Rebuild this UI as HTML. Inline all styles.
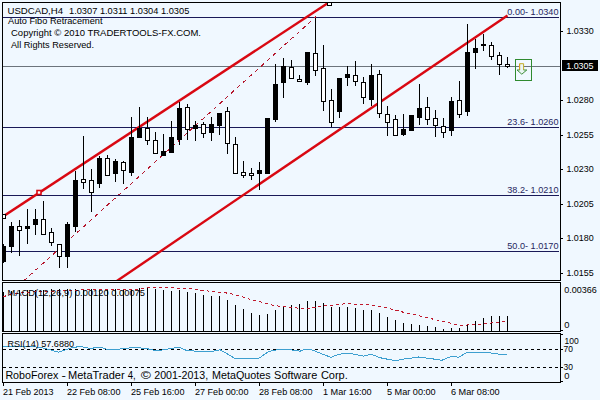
<!DOCTYPE html>
<html><head><meta charset="utf-8"><title>USDCAD H4</title>
<style>
html,body{margin:0;padding:0;background:#f0f8ff;}
body{width:600px;height:400px;overflow:hidden;position:relative;font-family:"Liberation Sans",sans-serif;}
</style></head><body>
<svg width="600" height="400" viewBox="0 0 600 400" style="position:absolute;left:0;top:0">
<rect width="600" height="400" fill="#f0f8ff"/>
<defs><clipPath id="cm"><rect x="3" y="3" width="557" height="277"/></clipPath><clipPath id="cd"><rect x="3" y="283" width="557" height="48"/></clipPath></defs>
<g shape-rendering="crispEdges">
<rect x="3" y="66" width="557" height="1" fill="#6c747c"/>
<rect x="3" y="17" width="556" height="1" fill="#1a1a58"/>
<rect x="3" y="127" width="556" height="1" fill="#1a1a58"/>
<rect x="3" y="195" width="556" height="1" fill="#1a1a58"/>
<rect x="3" y="251" width="556" height="1" fill="#1a1a58"/>
</g>
<g clip-path="url(#cm)" fill="none">
<line x1="23.5" y1="281" x2="316" y2="16.6" stroke="#b4162c" stroke-width="1" stroke-dasharray="4 4" shape-rendering="crispEdges"/>
<line x1="2" y1="217.1" x2="328" y2="3.0" stroke="#d90812" stroke-width="2.4"/>
<line x1="116.8" y1="281" x2="507.5" y2="15.5" stroke="#d90812" stroke-width="2.4"/>
</g>
<g shape-rendering="crispEdges" clip-path="url(#cm)">
<rect x="3" y="244" width="1" height="19" fill="#000"/>
<rect x="1" y="246" width="5" height="16" fill="#000"/>
<rect x="11" y="222" width="1" height="31" fill="#000"/>
<rect x="9" y="226" width="5" height="21" fill="#000"/>
<rect x="19" y="220" width="1" height="36" fill="#000"/>
<rect x="17" y="226" width="5" height="5" fill="#000"/>
<rect x="18" y="227" width="3" height="3" fill="#fff"/>
<rect x="27" y="209" width="1" height="35" fill="#000"/>
<rect x="25" y="226" width="5" height="3" fill="#000"/>
<rect x="35" y="209" width="1" height="26" fill="#000"/>
<rect x="33" y="219" width="5" height="6" fill="#000"/>
<rect x="43" y="201" width="1" height="34" fill="#000"/>
<rect x="41" y="219" width="5" height="16" fill="#000"/>
<rect x="42" y="220" width="3" height="14" fill="#fff"/>
<rect x="51" y="228" width="1" height="18" fill="#000"/>
<rect x="49" y="232" width="5" height="11" fill="#000"/>
<rect x="50" y="233" width="3" height="9" fill="#fff"/>
<rect x="59" y="244" width="1" height="24" fill="#000"/>
<rect x="57" y="244" width="5" height="13" fill="#000"/>
<rect x="58" y="245" width="3" height="11" fill="#fff"/>
<rect x="67" y="222" width="1" height="46" fill="#000"/>
<rect x="65" y="224" width="5" height="33" fill="#000"/>
<rect x="75" y="171" width="1" height="61" fill="#000"/>
<rect x="73" y="180" width="5" height="47" fill="#000"/>
<rect x="83" y="136" width="1" height="53" fill="#000"/>
<rect x="81" y="179" width="5" height="4" fill="#000"/>
<rect x="82" y="180" width="3" height="2" fill="#fff"/>
<rect x="91" y="169" width="1" height="43" fill="#000"/>
<rect x="89" y="180" width="5" height="13" fill="#000"/>
<rect x="90" y="181" width="3" height="11" fill="#fff"/>
<rect x="99" y="156" width="1" height="32" fill="#000"/>
<rect x="97" y="158" width="5" height="26" fill="#000"/>
<rect x="107" y="155" width="1" height="21" fill="#000"/>
<rect x="105" y="158" width="5" height="18" fill="#000"/>
<rect x="106" y="159" width="3" height="16" fill="#fff"/>
<rect x="115" y="159" width="1" height="23" fill="#000"/>
<rect x="113" y="161" width="5" height="13" fill="#000"/>
<rect x="123" y="161" width="1" height="23" fill="#000"/>
<rect x="121" y="162" width="5" height="9" fill="#000"/>
<rect x="122" y="163" width="3" height="7" fill="#fff"/>
<rect x="131" y="117" width="1" height="59" fill="#000"/>
<rect x="129" y="137" width="5" height="36" fill="#000"/>
<rect x="139" y="107" width="1" height="31" fill="#000"/>
<rect x="137" y="128" width="5" height="10" fill="#000"/>
<rect x="147" y="117" width="1" height="28" fill="#000"/>
<rect x="145" y="128" width="5" height="13" fill="#000"/>
<rect x="146" y="129" width="3" height="11" fill="#fff"/>
<rect x="155" y="132" width="1" height="22" fill="#000"/>
<rect x="153" y="140" width="5" height="14" fill="#000"/>
<rect x="154" y="141" width="3" height="12" fill="#fff"/>
<rect x="163" y="134" width="1" height="22" fill="#000"/>
<rect x="161" y="151" width="5" height="5" fill="#000"/>
<rect x="171" y="121" width="1" height="32" fill="#000"/>
<rect x="169" y="137" width="5" height="16" fill="#000"/>
<rect x="179" y="102" width="1" height="43" fill="#000"/>
<rect x="177" y="108" width="5" height="32" fill="#000"/>
<rect x="187" y="104" width="1" height="36" fill="#000"/>
<rect x="185" y="107" width="5" height="23" fill="#000"/>
<rect x="186" y="108" width="3" height="21" fill="#fff"/>
<rect x="195" y="121" width="1" height="20" fill="#000"/>
<rect x="193" y="125" width="5" height="4" fill="#000"/>
<rect x="203" y="122" width="1" height="16" fill="#000"/>
<rect x="201" y="124" width="5" height="10" fill="#000"/>
<rect x="202" y="125" width="3" height="8" fill="#fff"/>
<rect x="211" y="117" width="1" height="24" fill="#000"/>
<rect x="209" y="124" width="5" height="9" fill="#000"/>
<rect x="219" y="113" width="1" height="22" fill="#000"/>
<rect x="217" y="113" width="5" height="13" fill="#000"/>
<rect x="227" y="107" width="1" height="47" fill="#000"/>
<rect x="225" y="111" width="5" height="33" fill="#000"/>
<rect x="226" y="112" width="3" height="31" fill="#fff"/>
<rect x="235" y="137" width="1" height="37" fill="#000"/>
<rect x="233" y="144" width="5" height="30" fill="#000"/>
<rect x="234" y="145" width="3" height="28" fill="#fff"/>
<rect x="243" y="161" width="1" height="17" fill="#000"/>
<rect x="241" y="172" width="5" height="4" fill="#000"/>
<rect x="242" y="173" width="3" height="2" fill="#fff"/>
<rect x="251" y="168" width="1" height="12" fill="#000"/>
<rect x="249" y="173" width="5" height="3" fill="#000"/>
<rect x="250" y="174" width="3" height="1" fill="#fff"/>
<rect x="259" y="162" width="1" height="28" fill="#000"/>
<rect x="257" y="170" width="5" height="4" fill="#000"/>
<rect x="267" y="118" width="1" height="56" fill="#000"/>
<rect x="265" y="118" width="5" height="56" fill="#000"/>
<rect x="275" y="64" width="1" height="58" fill="#000"/>
<rect x="273" y="84" width="5" height="36" fill="#000"/>
<rect x="283" y="58" width="1" height="40" fill="#000"/>
<rect x="281" y="66" width="5" height="17" fill="#000"/>
<rect x="291" y="60" width="1" height="19" fill="#000"/>
<rect x="289" y="67" width="5" height="12" fill="#000"/>
<rect x="290" y="68" width="3" height="10" fill="#fff"/>
<rect x="299" y="75" width="1" height="7" fill="#000"/>
<rect x="297" y="79" width="5" height="3" fill="#000"/>
<rect x="298" y="80" width="3" height="1" fill="#fff"/>
<rect x="307" y="52" width="1" height="33" fill="#000"/>
<rect x="305" y="52" width="5" height="31" fill="#000"/>
<rect x="315" y="18" width="1" height="58" fill="#000"/>
<rect x="313" y="53" width="5" height="18" fill="#000"/>
<rect x="314" y="54" width="3" height="16" fill="#fff"/>
<rect x="323" y="45" width="1" height="66" fill="#000"/>
<rect x="321" y="68" width="5" height="34" fill="#000"/>
<rect x="322" y="69" width="3" height="32" fill="#fff"/>
<rect x="331" y="89" width="1" height="38" fill="#000"/>
<rect x="329" y="100" width="5" height="23" fill="#000"/>
<rect x="330" y="101" width="3" height="21" fill="#fff"/>
<rect x="339" y="78" width="1" height="40" fill="#000"/>
<rect x="337" y="78" width="5" height="34" fill="#000"/>
<rect x="347" y="66" width="1" height="20" fill="#000"/>
<rect x="345" y="74" width="5" height="4" fill="#000"/>
<rect x="355" y="61" width="1" height="25" fill="#000"/>
<rect x="353" y="75" width="5" height="7" fill="#000"/>
<rect x="354" y="76" width="3" height="5" fill="#fff"/>
<rect x="363" y="77" width="1" height="27" fill="#000"/>
<rect x="361" y="82" width="5" height="16" fill="#000"/>
<rect x="362" y="83" width="3" height="14" fill="#fff"/>
<rect x="371" y="64" width="1" height="42" fill="#000"/>
<rect x="369" y="75" width="5" height="25" fill="#000"/>
<rect x="379" y="70" width="1" height="48" fill="#000"/>
<rect x="377" y="74" width="5" height="40" fill="#000"/>
<rect x="378" y="75" width="3" height="38" fill="#fff"/>
<rect x="387" y="106" width="1" height="30" fill="#000"/>
<rect x="385" y="114" width="5" height="9" fill="#000"/>
<rect x="386" y="115" width="3" height="7" fill="#fff"/>
<rect x="395" y="115" width="1" height="21" fill="#000"/>
<rect x="393" y="119" width="5" height="17" fill="#000"/>
<rect x="394" y="120" width="3" height="15" fill="#fff"/>
<rect x="403" y="114" width="1" height="22" fill="#000"/>
<rect x="401" y="129" width="5" height="6" fill="#000"/>
<rect x="411" y="115" width="1" height="16" fill="#000"/>
<rect x="409" y="115" width="5" height="16" fill="#000"/>
<rect x="419" y="84" width="1" height="41" fill="#000"/>
<rect x="417" y="108" width="5" height="10" fill="#000"/>
<rect x="427" y="97" width="1" height="28" fill="#000"/>
<rect x="425" y="107" width="5" height="13" fill="#000"/>
<rect x="426" y="108" width="3" height="11" fill="#fff"/>
<rect x="435" y="110" width="1" height="27" fill="#000"/>
<rect x="433" y="118" width="5" height="8" fill="#000"/>
<rect x="434" y="119" width="3" height="6" fill="#fff"/>
<rect x="443" y="118" width="1" height="20" fill="#000"/>
<rect x="441" y="126" width="5" height="7" fill="#000"/>
<rect x="442" y="127" width="3" height="5" fill="#fff"/>
<rect x="451" y="97" width="1" height="39" fill="#000"/>
<rect x="449" y="101" width="5" height="30" fill="#000"/>
<rect x="459" y="81" width="1" height="37" fill="#000"/>
<rect x="457" y="100" width="5" height="15" fill="#000"/>
<rect x="458" y="101" width="3" height="13" fill="#fff"/>
<rect x="467" y="24" width="1" height="92" fill="#000"/>
<rect x="465" y="52" width="5" height="60" fill="#000"/>
<rect x="475" y="39" width="1" height="30" fill="#000"/>
<rect x="473" y="48" width="5" height="5" fill="#000"/>
<rect x="483" y="34" width="1" height="17" fill="#000"/>
<rect x="481" y="44" width="5" height="2" fill="#000"/>
<rect x="491" y="42" width="1" height="18" fill="#000"/>
<rect x="489" y="45" width="5" height="12" fill="#000"/>
<rect x="490" y="46" width="3" height="10" fill="#fff"/>
<rect x="499" y="52" width="1" height="23" fill="#000"/>
<rect x="497" y="55" width="5" height="10" fill="#000"/>
<rect x="498" y="56" width="3" height="8" fill="#fff"/>
<rect x="507" y="57" width="1" height="11" fill="#000"/>
<rect x="505" y="64" width="5" height="3" fill="#000"/>
<rect x="506" y="65" width="3" height="1" fill="#fff"/>
</g>
<g shape-rendering="crispEdges">
<rect x="2.5" y="214.5" width="3" height="4" fill="#fff" stroke="#000" stroke-width="1"/>
<rect x="37" y="190.5" width="4" height="4" fill="#fff" stroke="#d90812" stroke-width="1.6" shape-rendering="auto"/>
<rect x="327.5" y="2.5" width="4" height="3" fill="#fff" stroke="#000" stroke-width="1"/>
</g>
<rect x="515.5" y="59.5" width="16" height="21" fill="none" stroke="#2f8a2f" stroke-width="1" shape-rendering="crispEdges"/>
<path d="M519.6 63.7 H523.6 V70 H526.8 L521.7 74.2 L517 70 H519.6 Z" fill="#eaf5f4" stroke="none"/>
<path d="M519.6 70 V63.7 H523.6 V70" fill="none" stroke="#c4ac28" stroke-width="1"/>
<path d="M519.6 63.9 V70" fill="none" stroke="#dca020" stroke-width="1"/>
<path d="M519.6 70 H517 L521.8 74.2 L526.8 70 H523.6" fill="none" stroke="#3f8f3a" stroke-width="1"/>
<g shape-rendering="crispEdges">
<rect x="3" y="292" width="1" height="39" fill="#000"/>
<rect x="11" y="291" width="1" height="40" fill="#000"/>
<rect x="19" y="290" width="1" height="41" fill="#000"/>
<rect x="27" y="290" width="1" height="41" fill="#000"/>
<rect x="35" y="290" width="1" height="41" fill="#000"/>
<rect x="43" y="290" width="1" height="41" fill="#000"/>
<rect x="51" y="289" width="1" height="42" fill="#000"/>
<rect x="59" y="289" width="1" height="42" fill="#000"/>
<rect x="67" y="289" width="1" height="42" fill="#000"/>
<rect x="75" y="289" width="1" height="42" fill="#000"/>
<rect x="83" y="289" width="1" height="42" fill="#000"/>
<rect x="91" y="289" width="1" height="42" fill="#000"/>
<rect x="99" y="289" width="1" height="42" fill="#000"/>
<rect x="107" y="289" width="1" height="42" fill="#000"/>
<rect x="115" y="289" width="1" height="42" fill="#000"/>
<rect x="123" y="289" width="1" height="42" fill="#000"/>
<rect x="131" y="289" width="1" height="42" fill="#000"/>
<rect x="139" y="288" width="1" height="43" fill="#000"/>
<rect x="147" y="287" width="1" height="44" fill="#000"/>
<rect x="155" y="289" width="1" height="42" fill="#000"/>
<rect x="163" y="290" width="1" height="41" fill="#000"/>
<rect x="171" y="291" width="1" height="40" fill="#000"/>
<rect x="179" y="290" width="1" height="41" fill="#000"/>
<rect x="187" y="292" width="1" height="39" fill="#000"/>
<rect x="195" y="293" width="1" height="38" fill="#000"/>
<rect x="203" y="295" width="1" height="36" fill="#000"/>
<rect x="211" y="296" width="1" height="35" fill="#000"/>
<rect x="219" y="296" width="1" height="35" fill="#000"/>
<rect x="227" y="300" width="1" height="31" fill="#000"/>
<rect x="235" y="305" width="1" height="26" fill="#000"/>
<rect x="243" y="309" width="1" height="22" fill="#000"/>
<rect x="251" y="313" width="1" height="18" fill="#000"/>
<rect x="259" y="315" width="1" height="16" fill="#000"/>
<rect x="267" y="314" width="1" height="17" fill="#000"/>
<rect x="275" y="310" width="1" height="21" fill="#000"/>
<rect x="283" y="306" width="1" height="25" fill="#000"/>
<rect x="291" y="305" width="1" height="26" fill="#000"/>
<rect x="299" y="304" width="1" height="27" fill="#000"/>
<rect x="307" y="301" width="1" height="30" fill="#000"/>
<rect x="315" y="301" width="1" height="30" fill="#000"/>
<rect x="323" y="303" width="1" height="28" fill="#000"/>
<rect x="331" y="307" width="1" height="24" fill="#000"/>
<rect x="339" y="307" width="1" height="24" fill="#000"/>
<rect x="347" y="307" width="1" height="24" fill="#000"/>
<rect x="355" y="308" width="1" height="23" fill="#000"/>
<rect x="363" y="310" width="1" height="21" fill="#000"/>
<rect x="371" y="310" width="1" height="21" fill="#000"/>
<rect x="379" y="313" width="1" height="18" fill="#000"/>
<rect x="387" y="317" width="1" height="14" fill="#000"/>
<rect x="395" y="320" width="1" height="11" fill="#000"/>
<rect x="403" y="323" width="1" height="8" fill="#000"/>
<rect x="411" y="324" width="1" height="7" fill="#000"/>
<rect x="419" y="325" width="1" height="6" fill="#000"/>
<rect x="427" y="326" width="1" height="5" fill="#000"/>
<rect x="435" y="327" width="1" height="4" fill="#000"/>
<rect x="443" y="329" width="1" height="2" fill="#000"/>
<rect x="451" y="328" width="1" height="3" fill="#000"/>
<rect x="459" y="328" width="1" height="3" fill="#000"/>
<rect x="467" y="325" width="1" height="6" fill="#000"/>
<rect x="475" y="321" width="1" height="10" fill="#000"/>
<rect x="483" y="318" width="1" height="13" fill="#000"/>
<rect x="491" y="316" width="1" height="15" fill="#000"/>
<rect x="499" y="316" width="1" height="15" fill="#000"/>
<rect x="507" y="316" width="1" height="15" fill="#000"/>
</g>
<polyline points="3.5,296.8 10,294.3 16,293.2 25,292.5 33.5,291.9 50,291.2 75,290.2 90,289.5 140,289 146,287.6 165,287.4 180,288.2 190,288.6 200,290 210,291.25 220,292.25 230,293.4 240,296 250,299.3 260,301.8 270,304.6 280,306.3 293.4,307.7 303.5,308.5 310,308.2 317,306.8 327,305.6 337,304.8 347,303.5 353.7,304.4 363.4,304.5 371.7,305.1 381.8,306.8 393.5,309.7 405.2,312.7 417,315.2 428.7,318.2 440.4,320.7 452,323.6 456.7,325 466.8,325 476.8,324.7 483.5,324 493.6,322.7 503.6,321.4 507.5,321" fill="none" stroke="#c0182c" stroke-width="1" stroke-dasharray="3 3" shape-rendering="crispEdges"/>
<g shape-rendering="crispEdges">
<line x1="3" y1="349.5" x2="560" y2="349.5" stroke="#000" stroke-width="1" stroke-dasharray="3 3"/>
<line x1="3" y1="367.5" x2="560" y2="367.5" stroke="#000" stroke-width="1" stroke-dasharray="3 3"/>
</g>
<polyline points="2.5,346.1 16.75,346.4 33.5,346.7 43.5,348.1 50.2,349.75 58.6,352.3 65.3,349.75 72,347.7 80.4,346.4 90.4,348.4 100,347.2 106.7,349.25 116.75,349.25 126.8,348.4 133.5,347.2 141.9,348.1 150.25,349.25 157,350.9 167,349.25 178.7,347.2 187,350.6 200,351.4 213.4,351.1 220,349.75 235.2,358.5 258.6,358.5 268.7,351.4 278.7,349.4 290.5,349.75 300,351.2 305,349.4 311.7,349.75 321.8,353.9 331,357.3 338.5,354.4 346.9,353.1 355.3,354.4 363.7,356.1 371.2,354.3 380.4,357.8 390.5,359.8 397.2,360.6 400,359.5 408.4,358.5 418.4,357 430.2,358.5 441.9,360.3 451.9,356.1 458.6,357.3 467,352.3 487.1,352.3 495.5,353.9 507,354.4" fill="none" stroke="#3d9fd0" stroke-width="1" shape-rendering="crispEdges"/>
<g shape-rendering="crispEdges" fill="#000">
<rect x="2" y="2" width="559" height="1"/>
<rect x="2" y="2" width="1" height="381"/>
<rect x="560" y="2" width="1" height="381"/>
<rect x="2" y="280" width="559" height="1"/>
<rect x="2" y="282" width="559" height="1"/>
<rect x="2" y="331" width="559" height="1"/>
<rect x="2" y="333" width="559" height="1"/>
<rect x="2" y="382" width="559" height="1"/>
<rect x="0" y="281" width="600" height="1" fill="#f0f8ff"/>
<rect x="0" y="332" width="600" height="1" fill="#f0f8ff"/>
<rect x="561" y="31" width="2" height="1"/>
<rect x="561" y="100" width="2" height="1"/>
<rect x="561" y="135" width="2" height="1"/>
<rect x="561" y="169" width="2" height="1"/>
<rect x="561" y="204" width="2" height="1"/>
<rect x="561" y="238" width="2" height="1"/>
<rect x="561" y="273" width="2" height="1"/>
<rect x="3" y="383" width="1" height="3"/>
<rect x="67" y="383" width="1" height="3"/>
<rect x="131" y="383" width="1" height="3"/>
<rect x="195" y="383" width="1" height="3"/>
<rect x="259" y="383" width="1" height="3"/>
<rect x="323" y="383" width="1" height="3"/>
<rect x="387" y="383" width="1" height="3"/>
<rect x="451" y="383" width="1" height="3"/>
<rect x="561" y="330" width="2" height="1"/>
<rect x="561" y="334" width="2" height="1"/>
<rect x="561" y="349" width="2" height="1"/>
<rect x="561" y="367" width="2" height="1"/>
<rect x="561" y="381" width="2" height="1"/>
<rect x="562" y="60" width="36" height="11"/>
</g>
<g font-family="'Liberation Sans', sans-serif">
<text x="7.5" y="13.7" font-size="9.4" fill="#000" text-anchor="start" font-weight="normal" textLength="55.6" lengthAdjust="spacingAndGlyphs" xml:space="preserve">USDCAD,H4</text>
<text x="69.0" y="13.7" font-size="9.4" fill="#000" text-anchor="start" font-weight="normal" textLength="120.3" lengthAdjust="spacingAndGlyphs" xml:space="preserve">1.0307 1.0311 1.0304 1.0305</text>
<text x="8" y="23.9" font-size="9.4" fill="#000" text-anchor="start" font-weight="normal" textLength="94.5" lengthAdjust="spacingAndGlyphs" xml:space="preserve">Auto Fibo Retracement</text>
<text x="11" y="35.8" font-size="9.4" fill="#000" text-anchor="start" font-weight="normal" textLength="190" lengthAdjust="spacingAndGlyphs" xml:space="preserve">Copyright © 2010 TRADERTOOLS-FX.COM.</text>
<text x="11" y="47.8" font-size="9.4" fill="#000" text-anchor="start" font-weight="normal" textLength="83" lengthAdjust="spacingAndGlyphs" xml:space="preserve">All Rights Reserved.</text>
<text x="7.5" y="296.1" font-size="9.6" fill="#000" text-anchor="start" font-weight="normal" textLength="137.5" lengthAdjust="spacingAndGlyphs" xml:space="preserve">MACD(12,26,9) 0.00120 0.00075</text>
<text x="7.5" y="346.8" font-size="9.4" fill="#000" text-anchor="start" font-weight="normal" textLength="66.5" lengthAdjust="spacingAndGlyphs" xml:space="preserve">RSI(14) 57.6880</text>
<text x="5.4" y="379" font-size="11.4" fill="#000" text-anchor="start" font-weight="normal" textLength="52.9" lengthAdjust="spacingAndGlyphs" xml:space="preserve">RoboForex</text>
<text x="61.4" y="379" font-size="11.4" fill="#000" text-anchor="start" font-weight="normal" textLength="4.4" lengthAdjust="spacingAndGlyphs" xml:space="preserve">-</text>
<text x="68.0" y="379" font-size="11.4" fill="#000" text-anchor="start" font-weight="normal" textLength="56.6" lengthAdjust="spacingAndGlyphs" xml:space="preserve">MetaTrader</text>
<text x="127.69999999999999" y="379" font-size="11.4" fill="#000" text-anchor="start" font-weight="normal" textLength="8.0" lengthAdjust="spacingAndGlyphs" xml:space="preserve">4,</text>
<text x="140.8" y="379" font-size="11.4" fill="#000" text-anchor="start" font-weight="normal" textLength="10.2" lengthAdjust="spacingAndGlyphs" xml:space="preserve">©</text>
<text x="154.3" y="379" font-size="11.4" fill="#000" text-anchor="start" font-weight="normal" textLength="53.8" lengthAdjust="spacingAndGlyphs" xml:space="preserve">2001-2013,</text>
<text x="212.0" y="379" font-size="11.4" fill="#000" text-anchor="start" font-weight="normal" textLength="58.6" lengthAdjust="spacingAndGlyphs" xml:space="preserve">MetaQuotes</text>
<text x="274.1" y="379" font-size="11.4" fill="#000" text-anchor="start" font-weight="normal" textLength="43.2" lengthAdjust="spacingAndGlyphs" xml:space="preserve">Software</text>
<text x="320.9" y="379" font-size="11.4" fill="#000" text-anchor="start" font-weight="normal" textLength="26.9" lengthAdjust="spacingAndGlyphs" xml:space="preserve">Corp.</text>
<text x="507.3" y="14.8" font-size="9.4" fill="#26265e" text-anchor="start" font-weight="normal" textLength="51.2" lengthAdjust="spacingAndGlyphs" xml:space="preserve">0.00- 1.0340</text>
<text x="507.3" y="124.8" font-size="9.4" fill="#26265e" text-anchor="start" font-weight="normal" textLength="51.2" lengthAdjust="spacingAndGlyphs" xml:space="preserve">23.6- 1.0260</text>
<text x="507.3" y="192.8" font-size="9.4" fill="#26265e" text-anchor="start" font-weight="normal" textLength="51.2" lengthAdjust="spacingAndGlyphs" xml:space="preserve">38.2- 1.0210</text>
<text x="507.3" y="248.8" font-size="9.4" fill="#26265e" text-anchor="start" font-weight="normal" textLength="51.2" lengthAdjust="spacingAndGlyphs" xml:space="preserve">50.0- 1.0170</text>
<text x="566.4" y="33.8" font-size="9.4" fill="#000" text-anchor="start" font-weight="normal" textLength="27.3" lengthAdjust="spacingAndGlyphs" xml:space="preserve">1.0330</text>
<text x="566.4" y="102.8" font-size="9.4" fill="#000" text-anchor="start" font-weight="normal" textLength="27.3" lengthAdjust="spacingAndGlyphs" xml:space="preserve">1.0280</text>
<text x="566.4" y="137.8" font-size="9.4" fill="#000" text-anchor="start" font-weight="normal" textLength="27.3" lengthAdjust="spacingAndGlyphs" xml:space="preserve">1.0255</text>
<text x="566.4" y="171.8" font-size="9.4" fill="#000" text-anchor="start" font-weight="normal" textLength="27.3" lengthAdjust="spacingAndGlyphs" xml:space="preserve">1.0230</text>
<text x="566.4" y="206.8" font-size="9.4" fill="#000" text-anchor="start" font-weight="normal" textLength="27.3" lengthAdjust="spacingAndGlyphs" xml:space="preserve">1.0205</text>
<text x="566.4" y="240.8" font-size="9.4" fill="#000" text-anchor="start" font-weight="normal" textLength="27.3" lengthAdjust="spacingAndGlyphs" xml:space="preserve">1.0180</text>
<text x="566.4" y="275.8" font-size="9.4" fill="#000" text-anchor="start" font-weight="normal" textLength="27.3" lengthAdjust="spacingAndGlyphs" xml:space="preserve">1.0155</text>
<text x="566.2" y="69" font-size="9.4" fill="#fff" text-anchor="start" font-weight="normal" textLength="27.3" lengthAdjust="spacingAndGlyphs" xml:space="preserve">1.0305</text>
<text x="564.2" y="292.9" font-size="9.4" fill="#000" text-anchor="start" font-weight="normal" textLength="32.6" lengthAdjust="spacingAndGlyphs" xml:space="preserve">0.00366</text>
<text x="564.2" y="327.7" font-size="9.4" fill="#000" text-anchor="start" font-weight="normal" xml:space="preserve">0</text>
<text x="564.6" y="344" font-size="9.4" fill="#000" text-anchor="start" font-weight="normal" textLength="14.2" lengthAdjust="spacingAndGlyphs" xml:space="preserve">100</text>
<text x="563.6" y="351.8" font-size="9.4" fill="#000" text-anchor="start" font-weight="normal" textLength="9.4" lengthAdjust="spacingAndGlyphs" xml:space="preserve">70</text>
<text x="563.6" y="369.9" font-size="9.4" fill="#000" text-anchor="start" font-weight="normal" textLength="9.4" lengthAdjust="spacingAndGlyphs" xml:space="preserve">30</text>
<text x="564.2" y="378.7" font-size="9.4" fill="#000" text-anchor="start" font-weight="normal" xml:space="preserve">0</text>
<text x="2.9" y="394.7" font-size="9.4" fill="#000" text-anchor="start" font-weight="normal" textLength="50.5" lengthAdjust="spacingAndGlyphs" xml:space="preserve">21 Feb 2013</text>
<text x="66.9" y="394.7" font-size="9.4" fill="#000" text-anchor="start" font-weight="normal" textLength="53.6" lengthAdjust="spacingAndGlyphs" xml:space="preserve">22 Feb 08:00</text>
<text x="130.9" y="394.7" font-size="9.4" fill="#000" text-anchor="start" font-weight="normal" textLength="53.6" lengthAdjust="spacingAndGlyphs" xml:space="preserve">25 Feb 16:00</text>
<text x="194.9" y="394.7" font-size="9.4" fill="#000" text-anchor="start" font-weight="normal" textLength="53.6" lengthAdjust="spacingAndGlyphs" xml:space="preserve">27 Feb 00:00</text>
<text x="258.9" y="394.7" font-size="9.4" fill="#000" text-anchor="start" font-weight="normal" textLength="53.6" lengthAdjust="spacingAndGlyphs" xml:space="preserve">28 Feb 08:00</text>
<text x="322.9" y="394.7" font-size="9.4" fill="#000" text-anchor="start" font-weight="normal" textLength="48.8" lengthAdjust="spacingAndGlyphs" xml:space="preserve">1 Mar 16:00</text>
<text x="386.9" y="394.7" font-size="9.4" fill="#000" text-anchor="start" font-weight="normal" textLength="48.8" lengthAdjust="spacingAndGlyphs" xml:space="preserve">5 Mar 00:00</text>
<text x="450.9" y="394.7" font-size="9.4" fill="#000" text-anchor="start" font-weight="normal" textLength="48.8" lengthAdjust="spacingAndGlyphs" xml:space="preserve">6 Mar 08:00</text>
</g>
</svg>
</body></html>
